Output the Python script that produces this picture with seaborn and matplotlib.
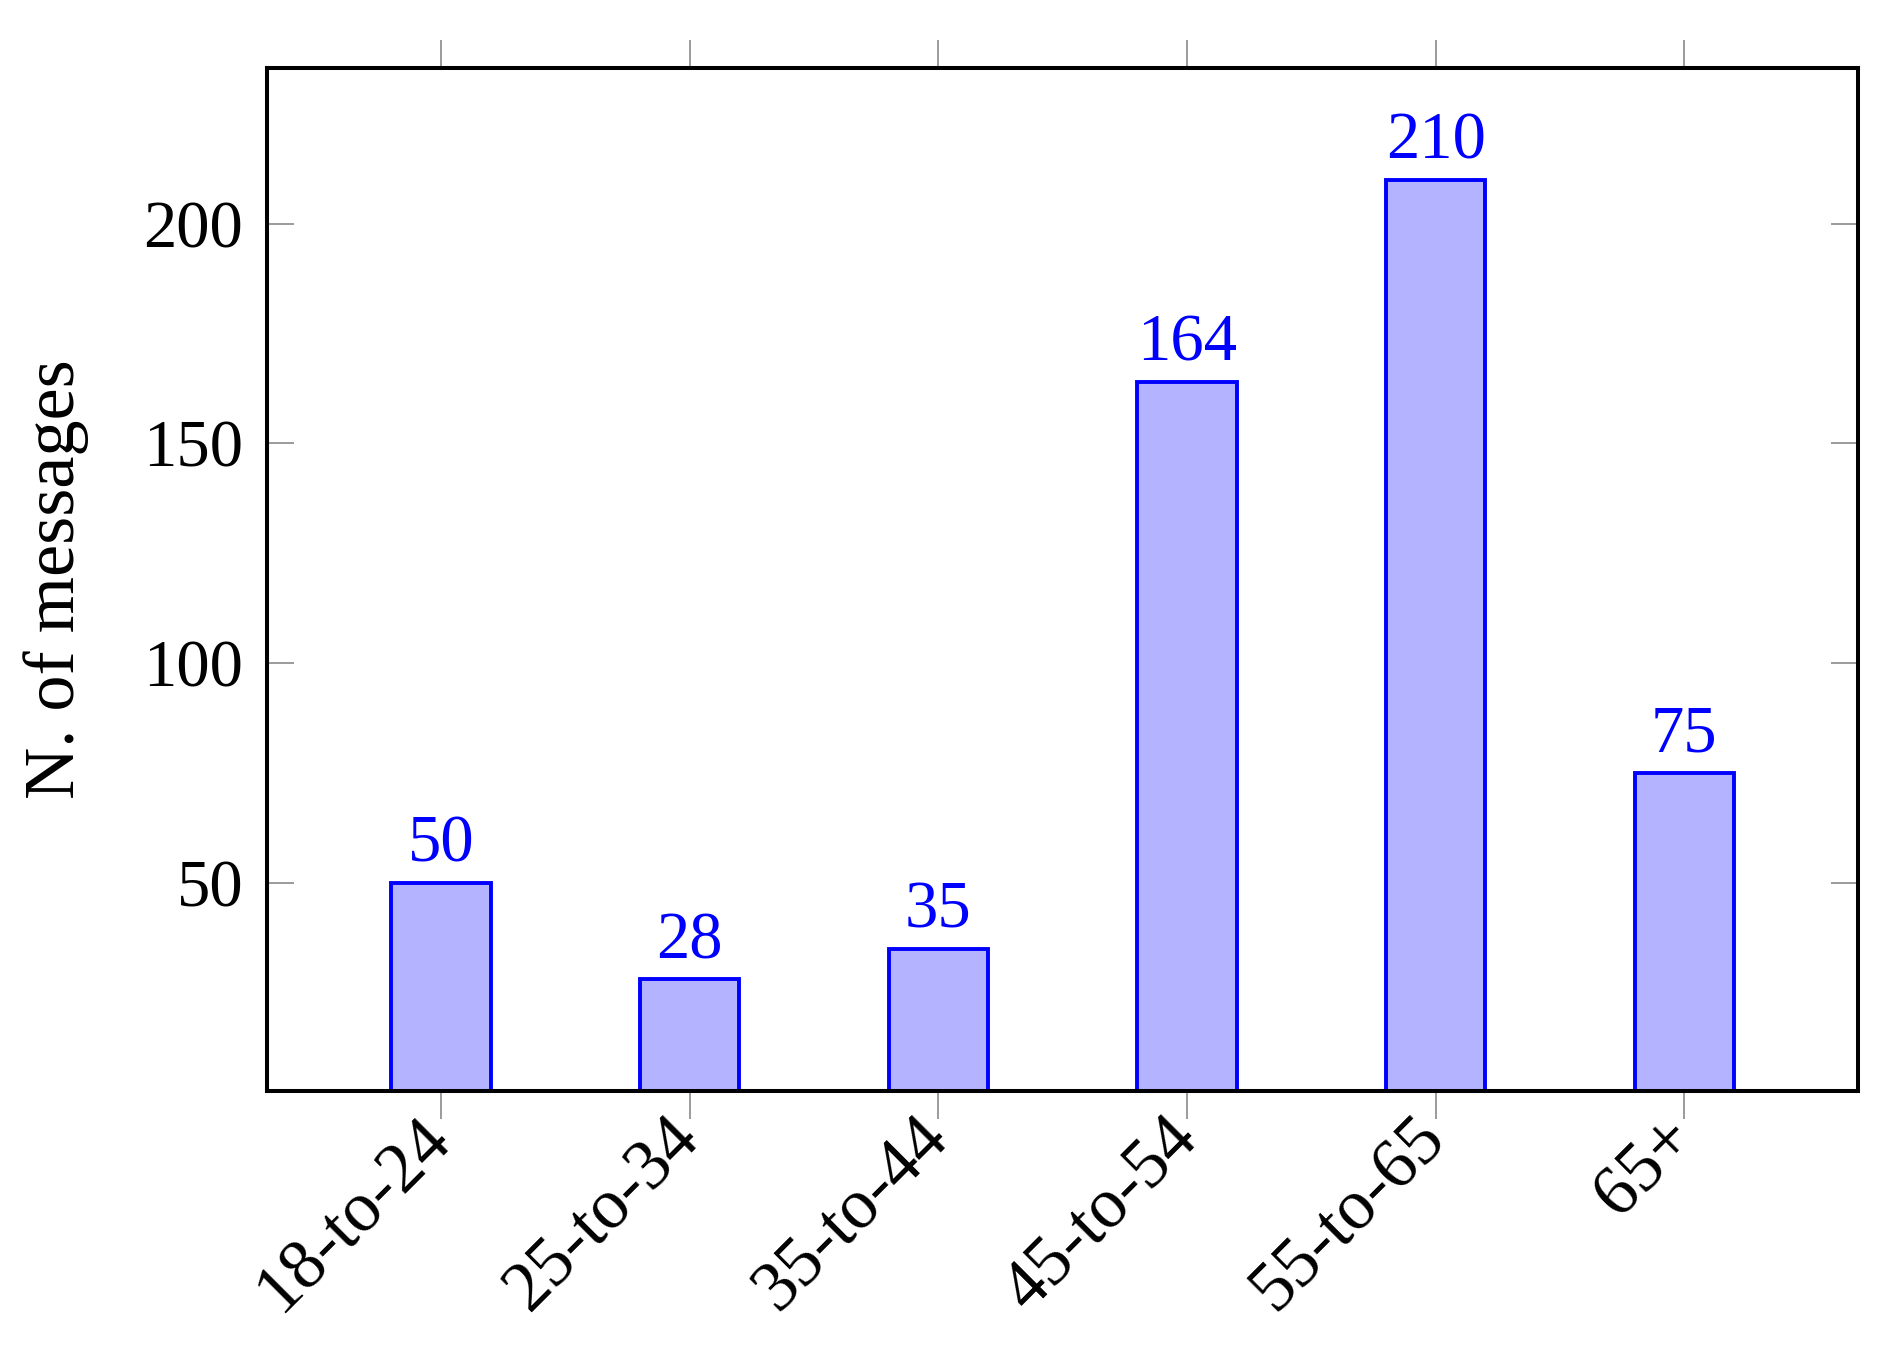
import matplotlib
matplotlib.use("Agg")
import matplotlib.pyplot as plt
import seaborn as sns

# data
age_groups = ["18-to-24", "25-to-34", "35-to-44", "45-to-54", "55-to-65", "65+"]
n_messages = [50, 28, 35, 164, 210, 75]
y_ticks = [50, 100, 150, 200]

sns.set_theme(style="white")
plt.rcParams['font.family'] = ['Liberation Serif', 'DejaVu Serif']
plt.rcParams['text.color'] = 'black'
plt.rcParams['axes.labelcolor'] = 'black'
plt.rcParams['xtick.labelcolor'] = 'black'
plt.rcParams['ytick.labelcolor'] = 'black'

fig = plt.figure(figsize=(18.96, 13.53), dpi=100)
ax = fig.add_axes([0.1408, 0.1939, 0.8394, 0.7561])

sns.barplot(x=age_groups, y=n_messages, color="#b3b3ff", saturation=1,
            width=0.4, edgecolor="blue", linewidth=2.8, ax=ax)

# value labels above the bars
for cont in ax.containers:
    ax.bar_label(cont, fontsize=48, color="blue", padding=5)

ax.set_xlim(-0.70, 5.70)
ax.set_ylim(2.67, 235.5)
ax.set_yticks(y_ticks)
ax.set_xlabel("")
ax.set_ylabel("N. of messages", fontsize=52, color="black")
ax.yaxis.set_label_coords(-0.112, 0.5)

for s in ax.spines.values():
    s.set_color("black")
    s.set_linewidth(2.9)

ax.tick_params(axis="x", which="both", direction="out", length=20, width=1.1,
               color="#808080", top=True, bottom=True, labelsize=51, pad=7,
               labelcolor="black")
ax.tick_params(axis="y", which="both", direction="in", length=19.5, width=1.1,
               color="#808080", left=True, right=True, labelsize=48, pad=17,
               labelcolor="black")
plt.setp(ax.get_xticklabels(), rotation=45, ha="right", va="center",
         rotation_mode="anchor")

fig.savefig("out.png", dpi=100)
